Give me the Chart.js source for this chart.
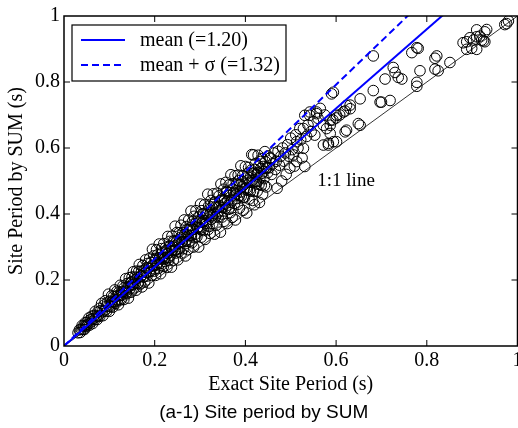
<!DOCTYPE html>
<html>
<head>
<meta charset="utf-8">
<script src="https://cdn.jsdelivr.net/npm/chart.js@4.4.1/dist/chart.umd.min.js"></script>
<style>
  html, body { margin: 0; padding: 0; background: #fff; overflow: hidden; }
  #wrap { width: 540px; height: 428px; }
</style>
</head>
<body>
<div id="wrap"><canvas id="c" width="540" height="428"></canvas></div>
<script>
// axis ticks (both axes)
const axisTicks = [0, 0.2, 0.4, 0.6, 0.8, 1];

// fitted ratios SUM / exact
const meanRatio = 1.20;
const sigmaRatio = 1.32;
const lineEnds = [0, 1];

// [exact site period, site period by SUM]
const sitePoints = [
  [0.031,0.040],[0.034,0.049],[0.036,0.041],[0.038,0.051],[0.040,0.062],[0.042,0.050],[0.043,0.060],[0.045,0.050],[0.047,0.071],[0.048,0.061],
  [0.050,0.059],[0.051,0.072],[0.053,0.066],[0.055,0.085],[0.056,0.063],[0.058,0.079],[0.060,0.073],[0.061,0.090],[0.063,0.068],[0.064,0.083],
  [0.066,0.092],[0.068,0.080],[0.069,0.105],[0.071,0.089],[0.073,0.080],[0.074,0.102],[0.076,0.092],[0.078,0.114],[0.079,0.090],[0.081,0.107],
  [0.083,0.129],[0.084,0.104],[0.086,0.092],[0.088,0.124],[0.089,0.106],[0.091,0.137],[0.093,0.120],[0.094,0.105],[0.096,0.132],[0.098,0.157],
  [0.099,0.122],[0.100,0.105],
  [0.102,0.136],[0.103,0.119],[0.105,0.152],[0.106,0.135],[0.108,0.118],[0.109,0.150],[0.111,0.134],[0.112,0.170],[0.114,0.129],[0.115,0.150],
  [0.117,0.166],[0.118,0.139],[0.120,0.125],[0.121,0.163],[0.123,0.154],[0.124,0.184],[0.126,0.140],[0.127,0.164],[0.129,0.155],[0.130,0.182],
  [0.132,0.141],[0.133,0.177],[0.135,0.166],[0.136,0.204],[0.138,0.159],[0.139,0.189],[0.141,0.179],[0.142,0.145],[0.144,0.207],[0.145,0.173],
  [0.147,0.193],[0.148,0.163],[0.150,0.209],[0.151,0.187],[0.153,0.225],[0.154,0.176],[0.156,0.209],[0.157,0.190],[0.159,0.169],[0.160,0.227],
  [0.162,0.207],[0.163,0.191],[0.165,0.226],[0.166,0.247],[0.168,0.188],[0.169,0.211],[0.171,0.227],[0.172,0.179],[0.174,0.244],[0.175,0.210],
  [0.177,0.230],[0.178,0.194],[0.180,0.261],[0.181,0.223],[0.183,0.212],[0.184,0.250],[0.186,0.236],[0.187,0.191],[0.189,0.266],[0.190,0.226],
  [0.192,0.253],[0.193,0.214],[0.195,0.293],[0.196,0.243],[0.198,0.273],[0.199,0.227],
  [0.105,0.131],[0.112,0.134],[0.118,0.153],[0.125,0.153],[0.131,0.166],[0.137,0.162],[0.143,0.179],[0.149,0.194],
  [0.152,0.185],[0.158,0.202],[0.164,0.189],[0.170,0.213],[0.176,0.209],[0.182,0.237],[0.188,0.227],[0.194,0.244],[0.200,0.234],[0.203,0.266],
  [0.201,0.259],[0.202,0.214],[0.204,0.292],[0.205,0.248],[0.206,0.276],[0.208,0.235],[0.209,0.263],[0.210,0.309],[0.212,0.250],[0.213,0.219],
  [0.215,0.295],[0.216,0.268],[0.217,0.284],[0.219,0.241],[0.220,0.310],[0.222,0.266],[0.223,0.256],[0.224,0.298],[0.226,0.287],[0.227,0.238],
  [0.229,0.332],[0.230,0.281],[0.231,0.259],[0.233,0.317],[0.234,0.302],[0.235,0.275],[0.237,0.239],[0.238,0.333],[0.240,0.300],[0.241,0.260],
  [0.242,0.319],[0.244,0.290],[0.245,0.363],[0.247,0.282],[0.248,0.317],[0.249,0.344],[0.251,0.261],[0.252,0.310],[0.254,0.343],[0.255,0.296],
  [0.256,0.323],[0.258,0.366],[0.259,0.282],[0.261,0.316],[0.262,0.343],[0.263,0.295],[0.265,0.382],[0.266,0.338],[0.268,0.273],[0.269,0.317],
  [0.270,0.362],[0.272,0.337],[0.273,0.292],[0.275,0.382],[0.276,0.317],[0.277,0.357],[0.279,0.335],[0.280,0.409],[0.282,0.313],[0.283,0.376],
  [0.284,0.355],[0.286,0.300],[0.287,0.393],[0.289,0.338],[0.290,0.371],[0.291,0.410],[0.293,0.331],[0.294,0.359],[0.296,0.391],[0.297,0.300],
  [0.298,0.375],[0.300,0.357],[0.301,0.430],[0.303,0.330],[0.304,0.410],[0.305,0.375],[0.307,0.350],[0.308,0.400],[0.310,0.428],[0.311,0.323],
  [0.312,0.378],[0.314,0.399],[0.315,0.365],[0.317,0.460],[0.318,0.353],[0.319,0.424],
  [0.207,0.253],[0.211,0.268],[0.214,0.244],[0.218,0.270],[0.221,0.263],[0.225,0.290],[0.228,0.280],[0.232,0.269],[0.236,0.297],[0.239,0.289],
  [0.243,0.316],[0.246,0.290],[0.250,0.310],[0.253,0.286],[0.257,0.329],[0.260,0.315],[0.264,0.330],[0.267,0.310],[0.271,0.352],[0.274,0.334],
  [0.278,0.353],[0.281,0.334],[0.285,0.353],[0.288,0.328],[0.292,0.377],[0.295,0.357],[0.299,0.377],[0.302,0.353],[0.306,0.401],[0.309,0.380],
  [0.313,0.372],[0.316,0.401],[0.320,0.362],[0.323,0.404],[0.327,0.396],[0.330,0.429],[0.334,0.391],[0.337,0.418],[0.341,0.409],[0.344,0.440],
  [0.348,0.400],[0.351,0.442],[0.355,0.433],[0.358,0.469],[0.362,0.427],[0.365,0.456],[0.369,0.417],[0.372,0.476],[0.376,0.455],[0.379,0.470],
  [0.382,0.447],[0.385,0.501],[0.389,0.467],[0.392,0.498],[0.396,0.451],[0.399,0.491],[0.402,0.478],[0.406,0.524],[0.409,0.474],[0.412,0.515],
  [0.415,0.502],[0.418,0.468],[0.421,0.535],[0.424,0.500],[0.427,0.525],[0.430,0.490],[0.433,0.559],[0.436,0.523],[0.439,0.544],[0.442,0.486],
  [0.321,0.398],[0.322,0.341],[0.324,0.441],[0.325,0.384],[0.326,0.421],[0.328,0.371],[0.329,0.461],[0.331,0.401],[0.332,0.339],[0.333,0.436],
  [0.335,0.422],[0.336,0.366],[0.338,0.463],[0.339,0.403],[0.340,0.391],[0.342,0.455],[0.343,0.422],[0.345,0.345],[0.346,0.491],[0.347,0.444],
  [0.349,0.391],[0.350,0.420],[0.352,0.475],[0.353,0.378],[0.354,0.443],[0.356,0.417],[0.357,0.496],[0.359,0.467],[0.360,0.371],[0.361,0.440],
  [0.363,0.414],[0.364,0.488],[0.366,0.465],[0.367,0.404],[0.368,0.519],[0.370,0.440],[0.371,0.390],[0.373,0.492],[0.374,0.464],[0.376,0.432],
  [0.377,0.516],[0.378,0.382],[0.380,0.460],[0.381,0.491],[0.383,0.429],[0.384,0.518],[0.386,0.455],[0.387,0.418],[0.388,0.489],[0.390,0.546],
  [0.391,0.454],[0.393,0.483],[0.394,0.516],[0.395,0.411],[0.397,0.476],[0.398,0.450],[0.400,0.544],[0.401,0.509],[0.403,0.403],[0.404,0.473],
  [0.405,0.502],[0.407,0.541],[0.408,0.445],[0.410,0.496],[0.411,0.469],[0.413,0.533],[0.414,0.580],[0.416,0.441],[0.417,0.496],[0.419,0.524],
  [0.420,0.428],[0.422,0.553],[0.423,0.491],[0.425,0.519],[0.426,0.469],[0.428,0.578],[0.429,0.545],[0.431,0.435],[0.432,0.510],[0.434,0.538],
  [0.435,0.487],[0.437,0.568],[0.438,0.460],[0.440,0.528],[0.441,0.507],[0.443,0.589],[0.444,0.559],[0.446,0.482],[0.447,0.541],[0.449,0.525],
  [0.450,0.576],[0.418,0.579],[0.425,0.498],[0.447,0.539],[0.454,0.569],
  [0.452,0.540],[0.455,0.570],[0.458,0.520],[0.460,0.552],[0.463,0.585],[0.466,0.535],[0.468,0.560],[0.470,0.478],[0.472,0.590],[0.475,0.548],
  [0.478,0.575],[0.480,0.500],[0.482,0.600],[0.485,0.560],[0.488,0.585],[0.490,0.520],[0.493,0.610],[0.496,0.575],[0.498,0.539],[0.500,0.630],
  [0.503,0.595],[0.506,0.579],[0.508,0.545],[0.511,0.640],[0.513,0.619],[0.513,0.559],[0.516,0.600],[0.520,0.659],[0.522,0.625],[0.525,0.570],
  [0.528,0.659],[0.528,0.599],[0.531,0.699],[0.531,0.544],[0.535,0.635],[0.538,0.670],[0.542,0.699],[0.542,0.709],[0.545,0.650],[0.550,0.680],
  [0.553,0.639],[0.557,0.704],[0.557,0.709],[0.560,0.690],[0.565,0.720],[0.572,0.669],[0.572,0.609],[0.575,0.700],[0.579,0.659],[0.583,0.609],
  [0.583,0.614],[0.587,0.684],[0.587,0.644],[0.587,0.669],[0.590,0.764],[0.594,0.769],[0.594,0.619],[0.593,0.685],[0.600,0.691],[0.601,0.699],
  [0.601,0.619],[0.608,0.700],[0.616,0.709],[0.620,0.712],[0.620,0.649],[0.623,0.654],[0.623,0.729],[0.631,0.719],[0.631,0.730],[0.653,0.749],
  [0.649,0.674],[0.653,0.669],
  [0.682,0.879],[0.682,0.774],[0.697,0.739],[0.700,0.739],[0.708,0.809],[0.719,0.744],[0.726,0.844],[0.730,0.829],[0.737,0.814],[0.745,0.809],
  [0.767,0.889],[0.778,0.904],[0.781,0.902],[0.778,0.799],[0.778,0.787],[0.785,0.834],[0.818,0.839],[0.825,0.834],[0.818,0.872],[0.822,0.879],
  [0.851,0.859],[0.880,0.919],[0.888,0.899],[0.888,0.922],[0.895,0.934],[0.899,0.902],[0.903,0.927],[0.910,0.899],[0.910,0.937],[0.910,0.958],
  [0.917,0.939],[0.921,0.927],[0.925,0.925],[0.928,0.952],[0.928,0.922],[0.932,0.959],[0.972,0.974],[0.976,0.977],[0.980,0.985]
];

const serif = 'Liberation Serif';

const frame = {
  id: 'frame',
  afterDatasetsDraw(chart) {
    const { ctx, chartArea: a, scales: { x, y } } = chart;
    ctx.save();
    ctx.strokeStyle = '#000';
    ctx.lineWidth = 1.5;
    ctx.strokeRect(a.left, a.top, a.right - a.left, a.bottom - a.top);
    ctx.lineWidth = 1;
    ctx.beginPath();
    axisTicks.slice(1, -1).forEach(v => {
      const px = x.getPixelForValue(v), py = y.getPixelForValue(v);
      ctx.moveTo(px, a.bottom); ctx.lineTo(px, a.bottom - 6);
      ctx.moveTo(px, a.top); ctx.lineTo(px, a.top + 6);
      ctx.moveTo(a.left, py); ctx.lineTo(a.left + 6, py);
      ctx.moveTo(a.right, py); ctx.lineTo(a.right - 6, py);
    });
    ctx.stroke();

    // 1:1 line label
    ctx.fillStyle = '#000';
    ctx.font = '19px "' + serif + '"';
    ctx.textAlign = 'center';
    ctx.textBaseline = 'middle';
    ctx.fillText('1:1 line', x.getPixelForValue(0.622), y.getPixelForValue(0.5));

    // legend box in the upper left corner
    const items = chart.data.datasets.filter(d => d.legendText);
    const bx = a.left + 8, by = a.top + 9;
    ctx.fillStyle = '#fff';
    ctx.fillRect(bx, by, 214, 56);
    ctx.strokeStyle = '#000';
    ctx.lineWidth = 1.2;
    ctx.strokeRect(bx, by, 214, 56);
    ctx.font = '20px "' + serif + '"';
    ctx.textAlign = 'left';
    items.forEach((d, i) => {
      const ry = by + 15 + i * 25;
      ctx.strokeStyle = d.borderColor;
      ctx.lineWidth = d.borderWidth;
      ctx.setLineDash(d.borderDash || []);
      ctx.beginPath();
      ctx.moveTo(bx + 9, ry);
      ctx.lineTo(bx + 53, ry);
      ctx.stroke();
      ctx.setLineDash([]);
      ctx.fillStyle = '#000';
      ctx.fillText(d.legendText, bx + 68, ry + 1);
    });
    ctx.restore();
  }
};

new Chart(document.getElementById('c'), {
  type: 'scatter',
  data: {
    datasets: [
      {
        legendText: 'mean (=1.20)',
        data: lineEnds.map(v => ({ x: v, y: v * meanRatio })),
        showLine: true,
        borderColor: '#0000ff',
        borderWidth: 2,
        pointRadius: 0,
        order: 0
      },
      {
        legendText: 'mean + \u03c3 (=1.32)',
        data: lineEnds.map(v => ({ x: v, y: v * sigmaRatio })),
        showLine: true,
        borderColor: '#0000ff',
        borderWidth: 2,
        borderDash: [7, 4],
        pointRadius: 0,
        order: 0
      },
      {
        data: lineEnds.map(v => ({ x: v, y: v })),
        showLine: true,
        borderColor: '#000',
        borderWidth: 0.8,
        pointRadius: 0,
        order: 1
      },
      {
        data: sitePoints.map(p => ({ x: p[0], y: p[1] })),
        pointStyle: 'circle',
        pointRadius: 5.3,
        pointBorderWidth: 1,
        pointBorderColor: '#000',
        pointBackgroundColor: 'rgba(0,0,0,0)',
        order: 2
      }
    ]
  },
  options: {
    responsive: false,
    animation: false,
    devicePixelRatio: 1,
    layout: { padding: { left: 10, right: 22.5, top: 13, bottom: 3.6 } },
    plugins: {
      legend: { display: false },
      tooltip: { enabled: false },
      title: {
        display: true,
        position: 'bottom',
        text: '(a-1) Site period by SUM',
        color: '#000',
        font: { family: 'Liberation Sans', size: 19, weight: 'normal', lineHeight: 1.2 },
        padding: 0
      }
    },
    scales: {
      x: {
        min: 0, max: 1,
        afterBuildTicks: s => { s.ticks = axisTicks.map(v => ({ value: v })); },
        afterFit: s => { s.height = 55.6; },
        grid: { display: false, drawTicks: false },
        border: { display: false },
        ticks: { color: '#000', padding: 3, maxRotation: 0, callback: v => String(v), font: { family: serif, size: 20 } },
        title: {
          display: true, text: 'Exact Site Period (s)', color: '#000',
          font: { family: serif, size: 20, lineHeight: 1.2 },
          padding: { top: 4.6, bottom: 4.6 }
        }
      },
      y: {
        min: 0, max: 1,
        afterBuildTicks: s => { s.ticks = axisTicks.map(v => ({ value: v })); },
        afterFit: s => { s.width = 54; },
        grid: { display: false, drawTicks: false },
        border: { display: false },
        ticks: { color: '#000', padding: 4, callback: v => String(v), font: { family: serif, size: 20 } },
        title: {
          display: true, text: 'Site Period by SUM (s)', color: '#000',
          font: { family: serif, size: 20, lineHeight: 0.7 },
          padding: { top: 0, bottom: 0 }
        }
      }
    }
  },
  plugins: [frame]
});
</script>
</body>
</html>
